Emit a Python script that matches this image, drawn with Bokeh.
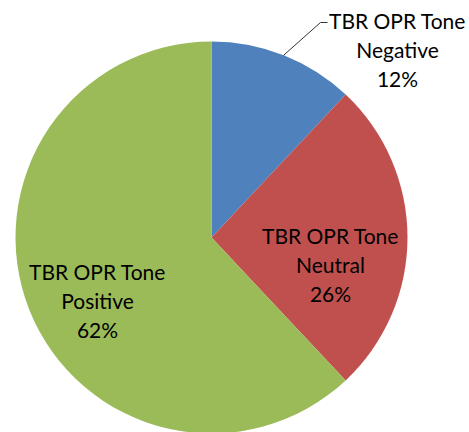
import math
from bokeh.plotting import figure
from bokeh.models import Range1d
from bokeh.core.properties import value
from bokeh.embed import file_html
from bokeh.resources import INLINE

categories = ["TBR OPR Tone\nNegative", "TBR OPR Tone\nNeutral", "TBR OPR Tone\nPositive"]
shares = [12, 26, 62]
colors = ["#4F81BD", "#C0504D", "#9BBB59"]

W, H = 469, 432
p = figure(width=W, height=H, output_backend="svg", toolbar_location=None,
           x_range=Range1d(0, W), y_range=Range1d(432 - H, 432),
           min_border=0, outline_line_color=None)
p.axis.visible = False
p.grid.visible = False
p.background_fill_color = "white"
p.border_fill_color = "white"

cx, cy, r = 211, 432 - 237, 196

total = sum(shares)
starts, ends, mids = [], [], []
a = 90.0
for s in shares:
    da = 360.0 * s / total
    starts.append(math.radians(a))
    ends.append(math.radians(a - da))
    mids.append(math.radians(a - da / 2))
    a -= da

p.wedge(x=[cx] * 3, y=[cy] * 3, radius=r, radius_units="screen",
        start_angle=starts, end_angle=ends, direction="clock",
        fill_color=colors, line_color=None)

labels = [f"{c}\n{s}%" for c, s in zip(categories, shares)]
# label anchor positions (layout)
lx = [397, 330, 97]
ly = [432 - 49, 432 - 264, 432 - 300]
p.text(x=lx, y=ly, text=labels, text_align="center", text_baseline="middle",
       text_font=value("Lato"), text_font_size="21px", text_color="#000000",
       text_line_height=1.16)

# leader line for the negative slice
mx = cx + r * math.cos(mids[0])
my = cy + r * math.sin(mids[0])
p.line(x=[mx, 320, 327], y=[my, 432 - 22, 432 - 22], line_color="#333333", line_width=1)

open("out.html", "w").write(file_html(p, INLINE))
